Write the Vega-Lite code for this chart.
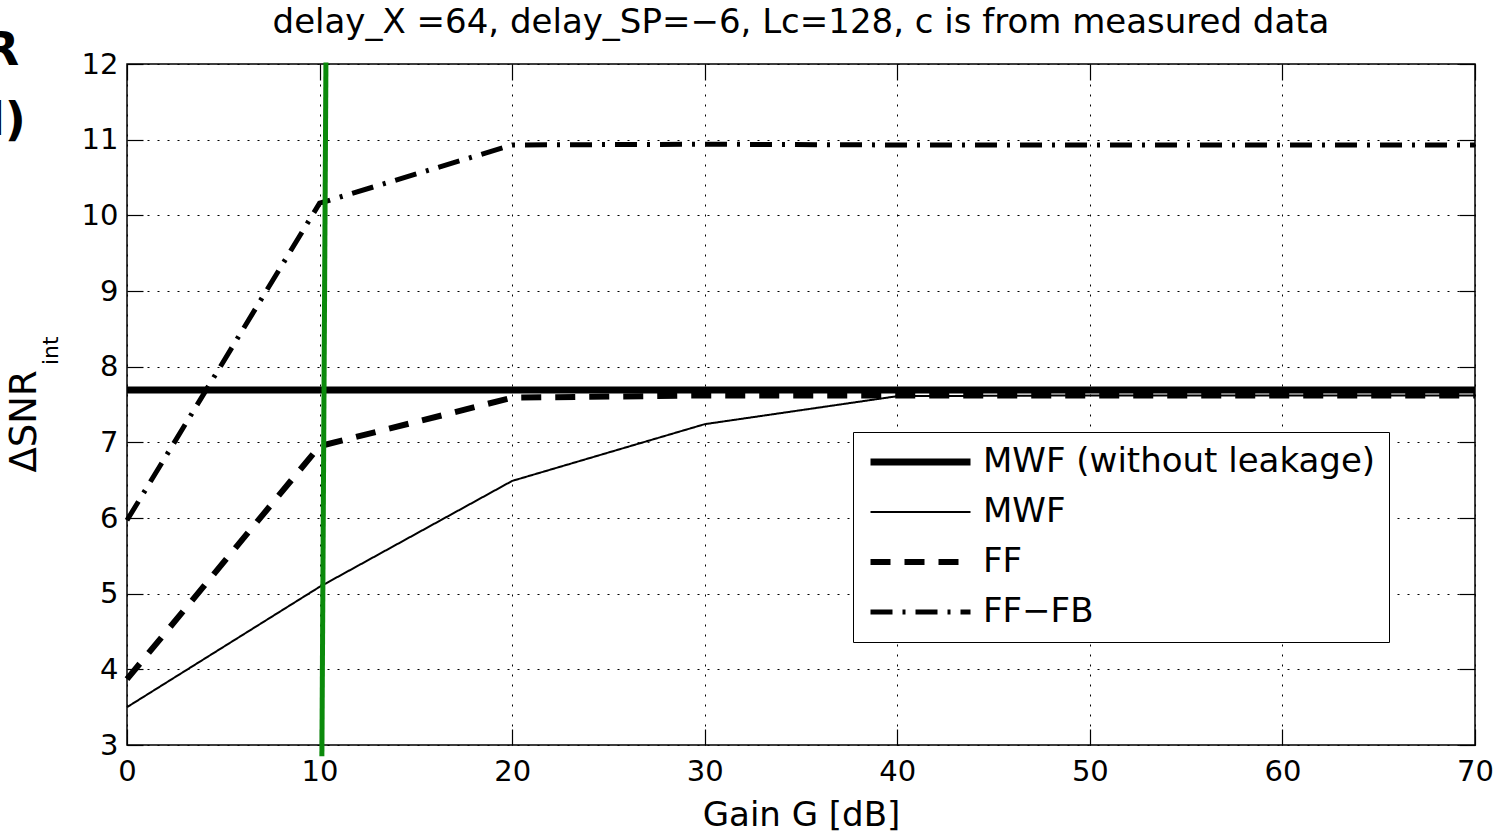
{
  "$schema": "https://vega.github.io/schema/vega-lite/v6.json",
  "width": 1348,
  "height": 681,
  "autosize": {"type": "none"},
  "padding": {"left": 127, "top": 64, "right": 37, "bottom": 89},
  "background": "white",
  "config": {
    "view": {"stroke": "#000", "strokeWidth": 1.5},
    "font": "DejaVu Sans",
    "axis": {"labelFont": "DejaVu Sans", "titleFont": "DejaVu Sans", "labelColor": "#000", "titleColor": "#000", "titleFontWeight": "normal"},
    "legend": {"orient": "none", "legendX": 726, "legendY": 368, "strokeColor": "#000", "fillColor": "white", "padding": 13, "symbolType": "M-1,0H7", "symbolSize": 625, "symbolStrokeColor": "#000", "labelFontSize": 34, "labelFont": "DejaVu Sans", "labelColor": "#000", "labelOffset": 83, "rowPadding": 16, "labelLimit": 600}
  },
  "title": {"text": "delay_X =64, delay_SP=−6, Lc=128, c is from measured data", "fontSize": 34, "fontWeight": "normal", "font": "DejaVu Sans", "color": "#000", "offset": -12},
  "datasets": {
    "curves": [
      {"series": "MWF (without leakage)", "G": 0, "snr": 7.69},
      {"series": "MWF (without leakage)", "G": 10, "snr": 7.69},
      {"series": "MWF (without leakage)", "G": 20, "snr": 7.69},
      {"series": "MWF (without leakage)", "G": 30, "snr": 7.69},
      {"series": "MWF (without leakage)", "G": 40, "snr": 7.69},
      {"series": "MWF (without leakage)", "G": 50, "snr": 7.69},
      {"series": "MWF (without leakage)", "G": 60, "snr": 7.69},
      {"series": "MWF (without leakage)", "G": 70, "snr": 7.69},
      {"series": "MWF", "G": 0, "snr": 3.5},
      {"series": "MWF", "G": 10, "snr": 5.09},
      {"series": "MWF", "G": 20, "snr": 6.49},
      {"series": "MWF", "G": 30, "snr": 7.24},
      {"series": "MWF", "G": 40, "snr": 7.61},
      {"series": "MWF", "G": 50, "snr": 7.62},
      {"series": "MWF", "G": 60, "snr": 7.62},
      {"series": "MWF", "G": 70, "snr": 7.62},
      {"series": "FF", "G": 0, "snr": 3.87},
      {"series": "FF", "G": 10, "snr": 6.95},
      {"series": "FF", "G": 20, "snr": 7.59},
      {"series": "FF", "G": 30, "snr": 7.62},
      {"series": "FF", "G": 40, "snr": 7.62},
      {"series": "FF", "G": 50, "snr": 7.62},
      {"series": "FF", "G": 60, "snr": 7.62},
      {"series": "FF", "G": 70, "snr": 7.62},
      {"series": "FF−FB", "G": 0, "snr": 5.97},
      {"series": "FF−FB", "G": 10, "snr": 10.16},
      {"series": "FF−FB", "G": 20, "snr": 10.93},
      {"series": "FF−FB", "G": 30, "snr": 10.94},
      {"series": "FF−FB", "G": 40, "snr": 10.93},
      {"series": "FF−FB", "G": 50, "snr": 10.93},
      {"series": "FF−FB", "G": 60, "snr": 10.93},
      {"series": "FF−FB", "G": 70, "snr": 10.93}
    ],
    "marker": [
      {"G": 10.33, "snr": 12.02},
      {"G": 10.12, "snr": 2.85}
    ],
    "notes": [
      {"G": -5.6, "snr": 12.17, "txt": "R"},
      {"G": -5.25, "snr": 11.25, "txt": "l)"}
    ],
    "sub": [
      {"G": -3.95, "snr": 8.21, "txt": "int"}
    ]
  },
  "resolve": {"axis": {"x": "independent", "y": "independent"}},
  "layer": [
    {
      "data": {"name": "curves"},
      "mark": {"type": "line", "color": "#000", "strokeCap": "butt", "clip": false},
      "encoding": {
        "x": {"field": "G", "type": "quantitative", "scale": {"domain": [0, 70], "nice": false},
          "axis": {"orient": "bottom", "values": [0, 10, 20, 30, 40, 50, 60, 70], "grid": true, "gridDash": [2, 8], "gridColor": "#000", "gridOpacity": 1, "gridWidth": 1,
            "tickSize": -16, "tickColor": "#000", "tickWidth": 1.2, "domain": false, "labelFontSize": 29, "labelPadding": 28, "labelFlush": false,
            "title": "Gain G [dB]", "titleFontSize": 34, "titlePadding": 12}},
        "y": {"field": "snr", "type": "quantitative", "scale": {"domain": [3, 12], "nice": false},
          "axis": {"orient": "left", "values": [3, 4, 5, 6, 7, 8, 9, 10, 11, 12], "grid": true, "gridDash": [2, 8], "gridColor": "#000", "gridOpacity": 1, "gridWidth": 1,
            "tickSize": -16, "tickColor": "#000", "tickWidth": 1.2, "domain": false, "labelFontSize": 29, "labelPadding": 25, "labelFlush": false,
            "title": "ΔSNR", "titleFontSize": 37, "titlePadding": 38, "titleY": 357}},
        "strokeDash": {"field": "series", "type": "nominal",
          "scale": {"domain": ["MWF (without leakage)", "MWF", "FF", "FF−FB"], "range": [[1, 0], [1, 0], [20, 14], [22, 10, 3, 10]]},
          "legend": {"title": null}},
        "strokeWidth": {"field": "series", "type": "nominal",
          "scale": {"type": "ordinal", "domain": ["MWF (without leakage)", "MWF", "FF", "FF−FB"], "range": [7, 2, 6, 5]},
          "legend": {"title": null}},
        "detail": {"field": "series"}
      }
    },
    {
      "data": {"name": "marker"},
      "mark": {"type": "line", "color": "#0b8a0b", "strokeWidth": 5, "clip": false},
      "encoding": {
        "x": {"field": "G", "type": "quantitative",
          "axis": {"orient": "top", "values": [0, 10, 20, 30, 40, 50, 60, 70], "grid": false, "labels": false, "tickSize": -16, "tickColor": "#000", "tickWidth": 1.2, "domain": false, "title": null}},
        "y": {"field": "snr", "type": "quantitative",
          "axis": {"orient": "right", "values": [3, 4, 5, 6, 7, 8, 9, 10, 11, 12], "grid": false, "labels": false, "tickSize": -16, "tickColor": "#000", "tickWidth": 1.2, "domain": false, "title": null}}
      }
    },
    {
      "data": {"name": "notes"},
      "mark": {"type": "text", "align": "right", "baseline": "middle", "fontSize": 46, "fontWeight": "bold", "font": "DejaVu Sans", "color": "#000", "clip": false},
      "encoding": {
        "x": {"field": "G", "type": "quantitative", "axis": null},
        "y": {"field": "snr", "type": "quantitative", "axis": null},
        "text": {"field": "txt"}
      }
    },
    {
      "data": {"name": "sub"},
      "mark": {"type": "text", "align": "center", "baseline": "middle", "angle": 270, "fontSize": 22, "font": "DejaVu Sans", "color": "#000", "clip": false},
      "encoding": {
        "x": {"field": "G", "type": "quantitative", "axis": null},
        "y": {"field": "snr", "type": "quantitative", "axis": null},
        "text": {"field": "txt"}
      }
    }
  ]
}
